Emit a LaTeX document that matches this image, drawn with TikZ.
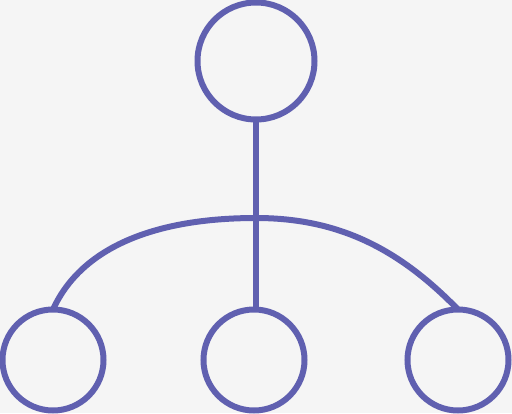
\documentclass[tikz,border=0pt]{standalone}
\begin{document}
\begin{tikzpicture}[x=1pt,y=-1pt,
  every node/.style={inner sep=0pt,outer sep=0pt},
  ring/.style={circle,draw=ink,line width=6pt},
  link/.style={draw=ink,line width=6pt}]
\definecolor{ink}{RGB}{96,96,176}
\definecolor{bg}{RGB}{245,245,245}
\fill[bg] (0,0) rectangle (512,413);
\useasboundingbox (0,0) rectangle (512,413);
\node[ring,minimum size=117pt] (t) at (256,61) {};
\node[ring,minimum size=101pt] (l) at (53,360) {};
\node[ring,minimum size=101pt] (m) at (254,360) {};
\node[ring,minimum size=101pt] (r) at (458,360) {};
\coordinate (apex) at (256,218);
\path[link] (t.south) -- (t.south |- m.north);
\path[link] (l.north) .. controls (80,250) and (150,218) .. (apex)
  .. controls (340,218) and (400,250) .. (r.north);
\end{tikzpicture}
\end{document}
